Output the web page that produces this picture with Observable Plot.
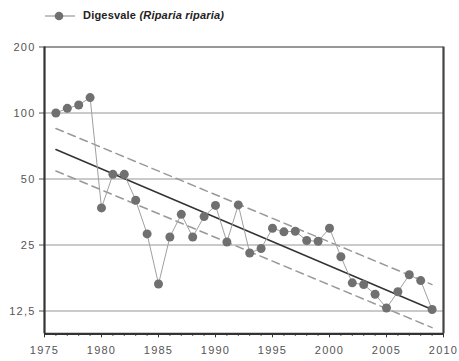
<!DOCTYPE html>
<html>
<head>
<meta charset="utf-8">
<script src="https://cdn.jsdelivr.net/npm/d3@7"></script>
<script src="https://cdn.jsdelivr.net/npm/@observablehq/plot@0.6"></script>
<style>
  body { margin: 0; background: #fff; font-family: "Liberation Sans", Arial, sans-serif; }
  #legend { position: relative; height: 30px; width: 459px; }
  #legend svg { position: absolute; left: 0; top: 0; }
  #legend .lbl { position: absolute; left: 83px; top: 9px; font-size: 11px; letter-spacing: 0.2px; font-weight: bold; color: #222; white-space: nowrap; }
  #chart svg text { letter-spacing: 1.2px; }
</style>
</head>
<body>
<div id="legend">
  <svg width="80" height="30"><line x1="45" x2="75" y1="16" y2="16" stroke="#999" stroke-width="1.2"/><circle cx="59" cy="16" r="4.3" fill="#707070"/></svg>
  <div class="lbl">Digesvale <i>(Riparia riparia)</i></div>
</div>
<div id="chart"></div>
<script>
const years = [1976,1977,1978,1979,1980,1981,1982,1983,1984,1985,1986,1987,1988,1989,1990,1991,1992,1993,1994,1995,1996,1997,1998,1999,2000,2001,2002,2003,2004,2005,2006,2007,2008,2009];
const index = [100,105,108.8,117.6,36.9,52.5,52.5,40.0,28.1,16.6,27.2,34.5,27.2,33.7,37.9,25.8,38.1,23.0,24.1,29.8,28.7,28.9,26.2,26.0,29.8,22.1,16.8,16.5,14.9,12.9,15.3,18.3,17.2,12.7];
const trendYears = [1976, 2009];
const trend = [68.2, 12.7];
const upper = [85, 16.5];
const lower = [54.4, 10.5];
const yTicks = [12.5, 25, 50, 100, 200];
const xTicks = [1975, 1980, 1985, 1990, 1995, 2000, 2005, 2010];
const minorTicks = d3.range(1975, 2011);

const pts = years.map((y, i) => ({year: y, value: index[i]}));
const tr = trendYears.map((y, i) => ({year: y, trend: trend[i], upper: upper[i], lower: lower[i]}));
const yFmt = d => String(d).replace(".", ",");

const chart = Plot.plot({
  width: 459,
  height: 331,
  marginTop: 16.5,
  marginBottom: 27.7,
  marginLeft: 44,
  marginRight: 16,
  style: {fontFamily: "'Liberation Sans', Arial, sans-serif", fontSize: "11px", color: "#333", background: "#fff"},
  x: {domain: [1975, 2010], label: null},
  y: {type: "log", domain: [9.84, 200], label: null},
  marks: [
    Plot.ruleY(yTicks.slice(0, 4), {stroke: "#b8b8b8", strokeWidth: 1.5}),
    Plot.axisY({ticks: yTicks, tickFormat: yFmt, tickSize: 5, tickPadding: 4, stroke: "#555", fill: "#555", label: null}),
    Plot.axisX({ticks: minorTicks, tickFormat: () => "", tickSize: 2.5, stroke: "#333", label: null}),
    Plot.axisX({ticks: xTicks, tickFormat: d => String(d), tickSize: 4, tickPadding: 8, stroke: "#333", fill: "#555", label: null}),
    Plot.line(tr, {x: "year", y: "upper", stroke: "#999", strokeWidth: 1.5, strokeDasharray: "8,5"}),
    Plot.line(tr, {x: "year", y: "lower", stroke: "#999", strokeWidth: 1.5, strokeDasharray: "8,5"}),
    Plot.line(tr, {x: "year", y: "trend", stroke: "#333", strokeWidth: 1.5}),
    Plot.line(pts, {x: "year", y: "value", stroke: "#a0a0a0", strokeWidth: 1}),
    Plot.dot(pts, {x: "year", y: "value", r: 4.5, fill: "#707070", stroke: "none"}),
    Plot.ruleY([200], {stroke: "#333", strokeWidth: 1.2}),
    Plot.ruleY([9.84], {stroke: "#333", strokeWidth: 2.2}),
    Plot.ruleX([1975], {stroke: "#333", strokeWidth: 2.2}),
    Plot.ruleX([2010], {stroke: "#444", strokeWidth: 2.2})
  ]
});
document.getElementById("chart").appendChild(chart);
</script>
</body>
</html>
